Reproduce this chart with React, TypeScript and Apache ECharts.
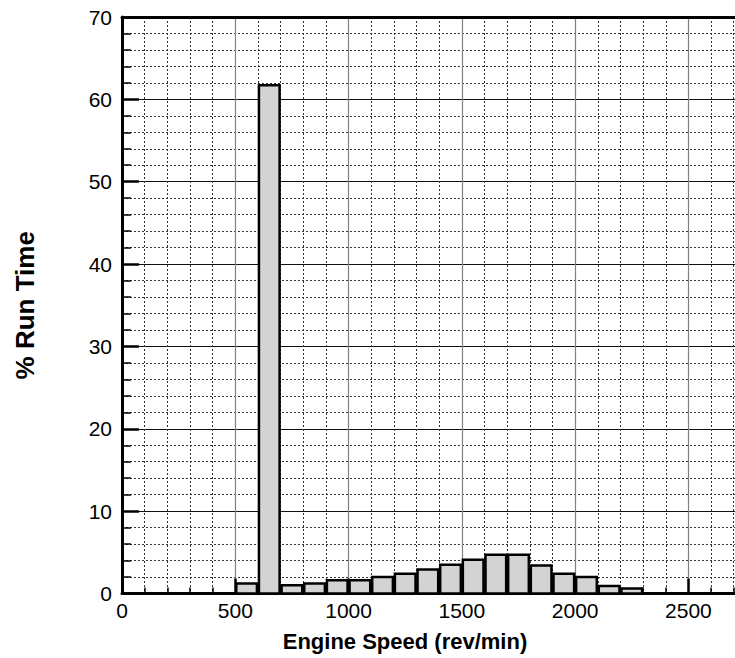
import React, { useEffect, useRef } from "react";
import * as echarts from "echarts";

const binStarts = [500, 600, 700, 800, 900, 1000, 1100, 1200, 1300, 1400, 1500, 1600, 1700, 1800, 1900, 2000, 2100, 2200];
const binWidth = 100;
const runTime = [1.2, 61.7, 1.0, 1.2, 1.6, 1.6, 2.0, 2.4, 2.9, 3.5, 4.1, 4.7, 4.7, 3.4, 2.4, 2.0, 0.9, 0.6];
const xTitle = "Engine Speed (rev/min)";
const yTitle = "% Run Time";

const FONT = '"Liberation Sans", Arial, sans-serif';

export default function App() {
  const ref = useRef<HTMLDivElement>(null);
  useEffect(() => {
    if (!ref.current) return;
    const chart = echarts.init(ref.current, undefined, { renderer: "svg" });
    const data = binStarts.map((s, i) => [s, s + binWidth, runTime[i]]);
    chart.setOption({
      animation: false,
      backgroundColor: "#ffffff",
      grid: { left: 122, top: 17, bottom: 64.5, right: -66.7, containLabel: false, outerBoundsMode: "none" },
      xAxis: [
        {
          type: "value",
          min: 0,
          max: 3000,
          interval: 500,
          position: "bottom",
          axisLine: { show: true, lineStyle: { color: "#000", width: 3 } },
          axisTick: { show: true, inside: true, length: 15, lineStyle: { color: "#000", width: 2.5 } },
          minorTick: { show: true, splitNumber: 5, length: 6, lineStyle: { color: "#000", width: 1.5 } },
          axisLabel: {
            show: true,
            fontSize: 21,
            fontFamily: FONT,
            color: "#000",
            margin: 6,
            showMaxLabel: false,
            formatter: (v: number) => (v >= 3000 ? "" : String(v)),
          },
          splitLine: { show: true, lineStyle: { color: "#808080", width: 1.2, type: "solid" } },
          minorSplitLine: { show: true, lineStyle: { color: "#333", width: 1, type: [2, 2] } },
        },
        {
          type: "value",
          min: 0,
          max: 3000,
          interval: 500,
          position: "top",
          axisLine: { show: true, onZero: false, lineStyle: { color: "#000", width: 3 } },
          axisTick: { show: false },
          axisLabel: { show: false },
          splitLine: { show: false },
        },
      ],
      yAxis: {
        type: "value",
        min: 0,
        max: 70,
        interval: 10,
        name: yTitle,
        nameLocation: "middle",
        nameGap: 84,
        nameRotate: 90,
        nameTextStyle: { fontSize: 26, fontWeight: "bold", fontFamily: FONT, color: "#000" },
        axisLine: { show: true, lineStyle: { color: "#000", width: 3 } },
        axisTick: { show: true, inside: true, length: 17, lineStyle: { color: "#000", width: 2.5 } },
        minorTick: { show: true, splitNumber: 5, length: 9, lineStyle: { color: "#000", width: 1.5 } },
        axisLabel: {
          show: true,
          fontSize: 21,
          fontFamily: FONT,
          color: "#000",
          margin: 10,
          formatter: (v: number) => String(v),
        },
        splitLine: { show: true, lineStyle: { color: "#111", width: 1, type: "solid" } },
        minorSplitLine: { show: true, lineStyle: { color: "#333", width: 1, type: [2, 2] } },
      },
      graphic: [
        {
          type: "text",
          x: 405,
          y: 641,
          style: {
            text: xTitle,
            fontSize: 22,
            fontWeight: "bold",
            fontFamily: FONT,
            fill: "#000",
            align: "center",
            verticalAlign: "middle",
          },
        },
      ],
      series: [
        {
          type: "custom",
          xAxisIndex: 0,
          yAxisIndex: 0,
          data,
          encode: { x: [0, 1], y: 2 },
          z: 5,
          renderItem: (params: any, api: any) => {
            const x0 = api.value(0);
            const x1 = api.value(1);
            const v = api.value(2);
            const p0 = api.coord([x0, v]);
            const p1 = api.coord([x1, 0]);
            return {
              type: "rect",
              shape: { x: p0[0] + 1, y: p0[1], width: p1[0] - p0[0] - 2, height: p1[1] - p0[1] },
              style: { fill: "#d3d3d3", stroke: "#000", lineWidth: 2.5 },
            };
          },
        },
      ],
    });
    return () => chart.dispose();
  }, []);
  return (
    <div
      ref={ref}
      style={{ position: "fixed", left: 0, top: 0, width: 735, height: 658, background: "#fff" }}
    />
  );
}
